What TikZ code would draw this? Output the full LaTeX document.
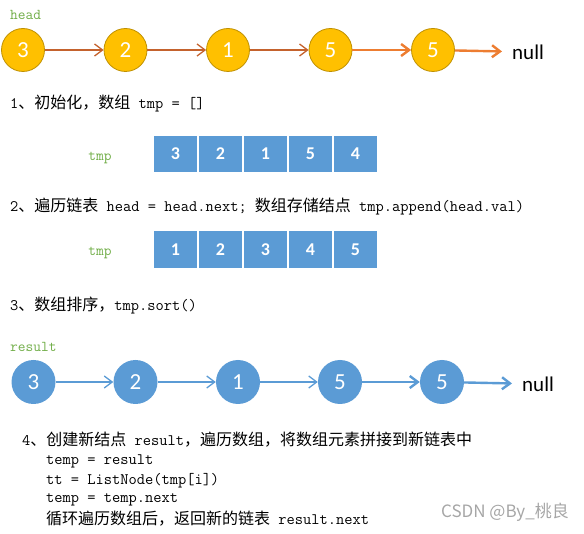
\documentclass[tikz,border=0pt]{standalone}
\usepackage{fontspec}
\usepackage{tikz}
\usetikzlibrary{arrows.meta,positioning}
\newfontfamily\cjk{Noto Sans CJK SC}
\newfontfamily\carlito{Carlito}
\definecolor{gold}{HTML}{FFC000}
\definecolor{goldline}{HTML}{BF9000}
\definecolor{brn}{HTML}{C4622D}
\definecolor{org}{HTML}{ED7D31}
\definecolor{lblue}{HTML}{5B9BD5}
\definecolor{lgreen}{HTML}{70AD47}
\definecolor{wmk}{HTML}{A6A6A6}
\tikzset{
  yn/.style={circle,draw=goldline,fill=gold,line width=0.8pt,minimum size=43pt,inner sep=0pt,text=white,font=\carlito\fontsize{23}{23}\selectfont},
  bn/.style={circle,fill=lblue,minimum size=44pt,inner sep=0pt,text=white,font=\carlito\fontsize{23}{23}\selectfont},
  cl/.style={rectangle,draw=white,line width=1.2pt,fill=lblue,minimum width=45pt,minimum height=38pt,inner sep=0pt,text=white,font=\carlito\bfseries\fontsize{18}{18}\selectfont},
  lb/.style={text=lgreen,inner sep=0pt,font=\ttfamily\fontsize{15}{15}\selectfont},
  txt/.style={anchor=west,inner sep=0pt,font=\ttfamily\fontsize{16}{16}\selectfont},
  nl/.style={anchor=west,inner xsep=10pt,inner ysep=0pt,font=\carlito\fontsize{21}{21}\selectfont},
  arr/.style={-{Straight Barb[length=8pt,width=12pt]},line width=1.3pt},
  tarr/.style={arr,line width=2.4pt},
}
\begin{document}
\begin{tikzpicture}[x=1pt,y=-1pt]
  \useasboundingbox (0,0) rectangle (584,534);
  % original list
  \node[lb,anchor=west] (head) at (10,15) {head};
  \foreach \x/\v [count=\i] in {23/3,125.5/2,228/1,330.5/5,433/5}
    \node[yn] (h\i) at (\x,50) {\v};
  \node[nl] (hnull) at (502,52) {null};
  \foreach \i/\j in {1/2,2/3,3/4} \draw[arr,brn] (h\i) -- (h\j);
  \draw[tarr,org] (h4) -- (h5);
  \draw[tarr,org] (h5) -- (hnull);
  % step 1
  \node[txt] (s1) at (10,104) {1{\cjk 、初始化，数组} tmp = []};
  \node[lb] (tmpa) at (100,158) {tmp};
  \foreach \v [count=\i] in {3,2,1,5,4}
    \node[cl] (ta\i) at (130.5+45*\i,154) {\v};
  % step 2
  \node[txt] (s2) at (10,207) {2{\cjk 、遍历链表} head = head.next; {\cjk 数组存储结点} tmp.append(head.val)};
  \node[lb] (tmpb) at (100,253) {tmp};
  \foreach \v [count=\i] in {1,2,3,4,5}
    \node[cl] (tb\i) at (130.5+45*\i,249.5) {\v};
  % step 3
  \node[txt] (s3) at (10,306) {3{\cjk 、数组排序，}tmp.sort()};
  % new list
  \node[lb,anchor=west] (result) at (10,347) {result};
  \foreach \x/\v [count=\i] in {33.5/3,135.5/2,238/1,340/5,442/5}
    \node[bn] (r\i) at (\x,382) {\v};
  \node[nl] (rnull) at (512,384) {null};
  \foreach \i/\j in {1/2,2/3,3/4} \draw[arr,lblue] (r\i) -- (r\j);
  \draw[tarr,lblue] (r4) -- (r5);
  \draw[tarr,lblue] (r5) -- (rnull);
  % step 4
  \node[txt] (s4) at (22,440) {4{\cjk 、创建新结点} result{\cjk ，遍历数组，将数组元素拼接到新链表中}};
  \node[txt] (c1) at (46,461) {temp = result};
  \node[txt] (c2) at (46,481) {tt = ListNode(tmp[i])};
  \node[txt] (c3) at (46,500) {temp = temp.next};
  \node[txt] (c4) at (46,519) {{\cjk 循环遍历数组后，返回新的链表} result.next};
  \node[anchor=east,inner sep=0pt,text=wmk,font=\cjk\fontsize{17}{17}\selectfont] (wm) at (569,512) {CSDN @By\_桃良};
\end{tikzpicture}
\end{document}
